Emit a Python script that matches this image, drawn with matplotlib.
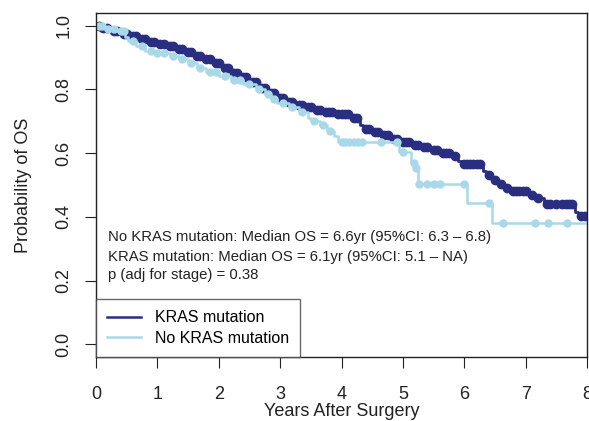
import numpy as np
import matplotlib.pyplot as plt

plt.rcParams['font.family'] = ['Liberation Sans', 'DejaVu Sans']

###### KRAS mutation (dark curve): step times and survival
t_mut = [0.0, 0.1, 0.25, 0.4, 0.55, 0.7, 0.85, 1.0, 1.15, 1.3, 1.45, 1.6, 1.75,
         1.9, 2.05, 2.2, 2.35, 2.5, 2.65, 2.8, 2.95, 3.1, 3.25, 3.4, 3.55, 3.7,
         3.9, 4.15, 4.3, 4.35, 4.5, 4.65, 4.8, 4.95, 5.15, 5.3, 5.45, 5.6, 5.8,
         5.9, 5.97, 6.3, 6.35, 6.45, 6.55, 6.65, 6.75, 7.05, 7.15, 7.3, 7.8,
         7.85, 8.0]
s_mut = [1.0, 0.992, 0.985, 0.975, 0.968, 0.957, 0.95, 0.942, 0.935, 0.928,
         0.918, 0.905, 0.895, 0.882, 0.868, 0.852, 0.838, 0.822, 0.805, 0.788,
         0.772, 0.76, 0.752, 0.745, 0.735, 0.728, 0.722, 0.712, 0.69, 0.677,
         0.668, 0.658, 0.645, 0.635, 0.627, 0.618, 0.61, 0.6, 0.59, 0.575,
         0.566, 0.545, 0.53, 0.515, 0.503, 0.49, 0.482, 0.47, 0.458, 0.442,
         0.415, 0.404, 0.404]
cens_mut = [0.05, 0.12, 0.18, 0.3, 0.35, 0.45, 0.5, 0.6, 0.65, 0.75, 0.8, 0.9,
            0.95, 1.05, 1.1, 1.2, 1.25, 1.35, 1.4, 1.5, 1.55, 1.65, 1.7, 1.8,
            1.85, 1.95, 2.0, 2.1, 2.15, 2.25, 2.3, 2.4, 2.45, 2.55, 2.6, 2.7,
            2.75, 2.85, 2.9, 3.0, 3.05, 3.15, 3.2, 3.3, 3.35, 3.45, 3.5, 3.6,
            3.65, 3.75, 3.8, 3.85, 3.95, 4.0, 4.05, 4.1, 4.2, 4.25, 4.4, 4.45,
            4.55, 4.6, 4.7, 4.75, 4.85, 4.9, 5.0, 5.05, 5.1, 5.2, 5.25, 5.35,
            5.4, 5.5, 5.55, 5.65, 5.7, 5.75, 5.85, 6.0, 6.05, 6.1, 6.15, 6.2,
            6.25, 6.4, 6.5, 6.6, 6.7, 6.8, 6.85, 6.9, 6.95, 7.0, 7.1, 7.2,
            7.35, 7.4, 7.5, 7.6, 7.65, 7.7, 7.75, 7.9, 7.97]

###### No KRAS mutation (light curve)
t_wt = [0.0, 0.15, 0.35, 0.48, 0.52, 0.65, 0.8, 0.95, 1.2, 1.35, 1.5, 1.65,
        1.8, 2.0, 2.2, 2.4, 2.6, 2.75, 2.85, 2.95, 3.15, 3.3, 3.45, 3.5, 3.65,
        3.77, 3.87, 3.95, 4.93, 5.13, 5.2, 5.24, 6.05, 6.45, 8.0]
s_wt = [1.0, 0.99, 0.985, 0.965, 0.952, 0.935, 0.922, 0.915, 0.905, 0.895,
        0.882, 0.868, 0.855, 0.842, 0.83, 0.818, 0.802, 0.785, 0.77, 0.758,
        0.745, 0.73, 0.71, 0.70, 0.687, 0.671, 0.655, 0.636, 0.605, 0.57,
        0.555, 0.502, 0.445, 0.382, 0.382]
cens_wt = [0.05, 0.1, 0.2, 0.3, 0.4, 0.45, 0.6, 0.75, 0.9, 1.0, 1.1, 1.25, 1.4,
           1.55, 1.7, 1.85, 1.95, 2.1, 2.25, 2.35, 2.5, 2.65, 2.8, 2.9, 3.05,
           3.2, 3.35, 3.55, 3.7, 3.82, 4.0, 4.05, 4.12, 4.2, 4.27, 4.33, 4.64,
           4.9, 5.0, 5.18, 5.21, 5.26, 5.39, 5.5, 5.6, 6.0, 6.4, 6.63, 7.15,
           7.36, 7.67]

col_mut = '#2a2e80'
col_wt = '#a9d9e8'


def surv_at(times, surv, c):
    idx = np.searchsorted(times, c, side='right') - 1
    return np.asarray(surv)[idx]


fig = plt.figure(figsize=(5.89, 4.21), dpi=100)
ax = fig.add_axes([0.163, 0.152, 0.8336, 0.817])

ax.step(t_mut, s_mut, where='post', color=col_mut, lw=2, label='KRAS mutation')
ax.plot(cens_mut, surv_at(t_mut, s_mut, cens_mut), 'o', color=col_mut, ms=6,
        mec=col_mut)
ax.step(t_wt, s_wt, where='post', color=col_wt, lw=1.8, label='No KRAS mutation')
ax.plot(cens_wt, surv_at(t_wt, s_wt, cens_wt), 'o', color=col_wt, ms=5,
        mec=col_wt)

ax.set_xlim(0, 8)
ax.set_ylim(-0.04, 1.04)
ax.set_xticks(range(9))
ax.set_yticks([0.0, 0.2, 0.4, 0.6, 0.8, 1.0])
ax.set_yticklabels(['0.0', '0.2', '0.4', '0.6', '0.8', '1.0'], rotation=90,
                   va='center')
ax.tick_params(direction='out', length=8, width=0.8, labelsize=13,
               colors='#222222')
ax.tick_params(axis='x', pad=13)
ax.tick_params(axis='y', pad=9)
for sp in ax.spines.values():
    sp.set_linewidth(1.0)
    sp.set_color('#222222')

ax.set_xlabel('Years After Surgery', fontsize=13, color='#222222', labelpad=0)
ax.set_ylabel('Probability of OS', fontsize=13, color='#222222', labelpad=17)

notes = ['No KRAS mutation: Median OS = 6.6yr (95%CI: 6.3 \u2013 6.8)',
         'KRAS mutation: Median OS = 6.1yr (95%CI: 5.1 \u2013 NA)',
         'p (adj for stage) = 0.38']
for i, y in enumerate([0.349, 0.291, 0.238]):
    ax.text(0.024, y, notes[i], transform=ax.transAxes, fontsize=10.7,
            va='center', ha='left', color='#222222')

leg = ax.legend(loc='lower left', bbox_to_anchor=(0, 0), borderaxespad=0,
                fontsize=11.5, fancybox=False, frameon=True, handlelength=2.1,
                handletextpad=0.9, borderpad=0.7, labelspacing=0.35)
leg.get_frame().set_edgecolor('#444444')
leg.get_frame().set_linewidth(1.0)
for line in leg.get_lines():
    line.set_linewidth(1.8)

fig.savefig('out.png', dpi=100)
